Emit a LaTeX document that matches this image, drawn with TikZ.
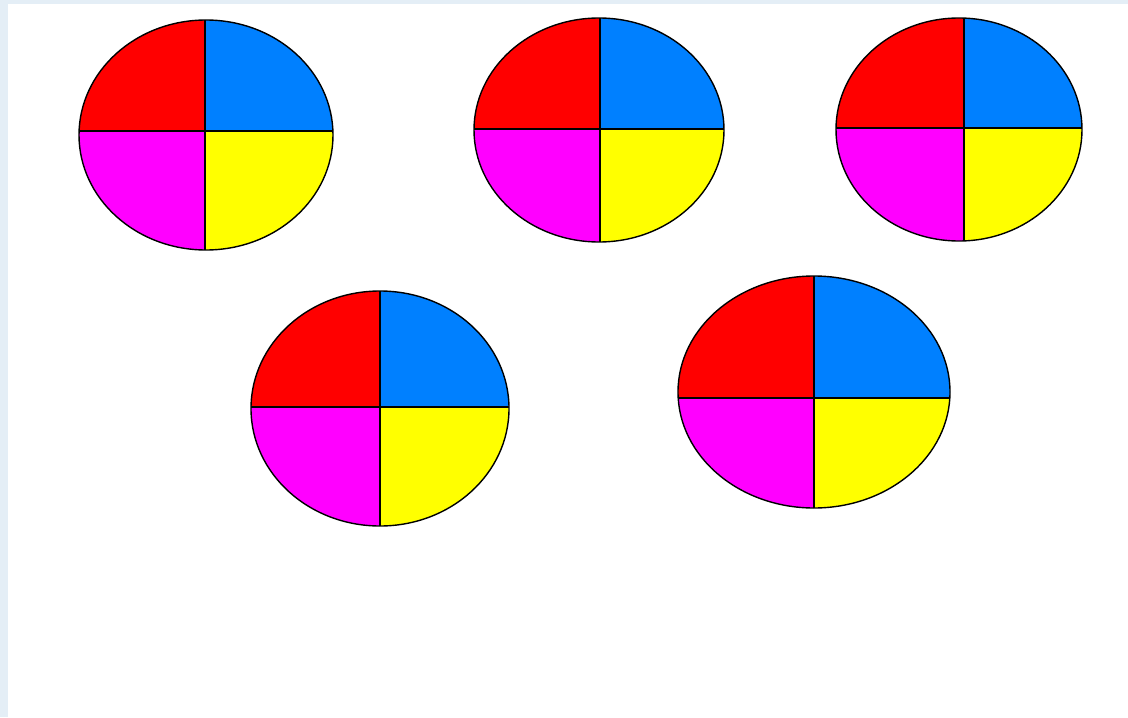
\documentclass[tikz,border=0pt]{standalone}
\definecolor{pieRed}{HTML}{FF0000}
\definecolor{pieBlue}{HTML}{0080FF}
\definecolor{pieMagenta}{HTML}{FF00FF}
\definecolor{pieYellow}{HTML}{FFFF00}
\definecolor{paperEdge}{HTML}{E4EEF6}
\begin{document}
\begin{tikzpicture}[
		x=0.5pt, y=-0.5pt,
		outline/.style={line width=0.7pt, black},
		divider/.style={line width=0.7pt, black},
	]

	% ---------- page ----------
	\useasboundingbox (0,0) rectangle (1128,717);
	\fill[paperEdge] (0,0) rectangle (1128,717);
	\fill[white] (8,4) rectangle (1128,717);

	% ---------- pies: ellipse centre, radii, split point ----------
	\foreach \ex/\ey/\rx/\ry/\sx/\sy in {
			206/135/127/115/205/131,
			599/130/125/112/600/129,
			959/129.5/123/111.5/964/128,
			380/408.5/129/117.5/380/407,
			814/392/136/116/814/398}{
		\begin{scope}
			\clip (\ex,\ey) ellipse [x radius=\rx, y radius=\ry];
			\fill[pieRed] (\sx,\sy) rectangle (\ex-\rx-2,\ey-\ry-2);
			\fill[pieBlue] (\sx,\sy) rectangle (\ex+\rx+2,\ey-\ry-2);
			\fill[pieMagenta] (\sx,\sy) rectangle (\ex-\rx-2,\ey+\ry+2);
			\fill[pieYellow] (\sx,\sy) rectangle (\ex+\rx+2,\ey+\ry+2);
			\draw[divider] (\sx,\ey-\ry-2) -- (\sx,\ey+\ry+2);
			\draw[divider] (\ex-\rx-2,\sy) -- (\ex+\rx+2,\sy);
		\end{scope}
		\draw[outline] (\ex,\ey) ellipse [x radius=\rx, y radius=\ry];
	}

\end{tikzpicture}
\end{document}
